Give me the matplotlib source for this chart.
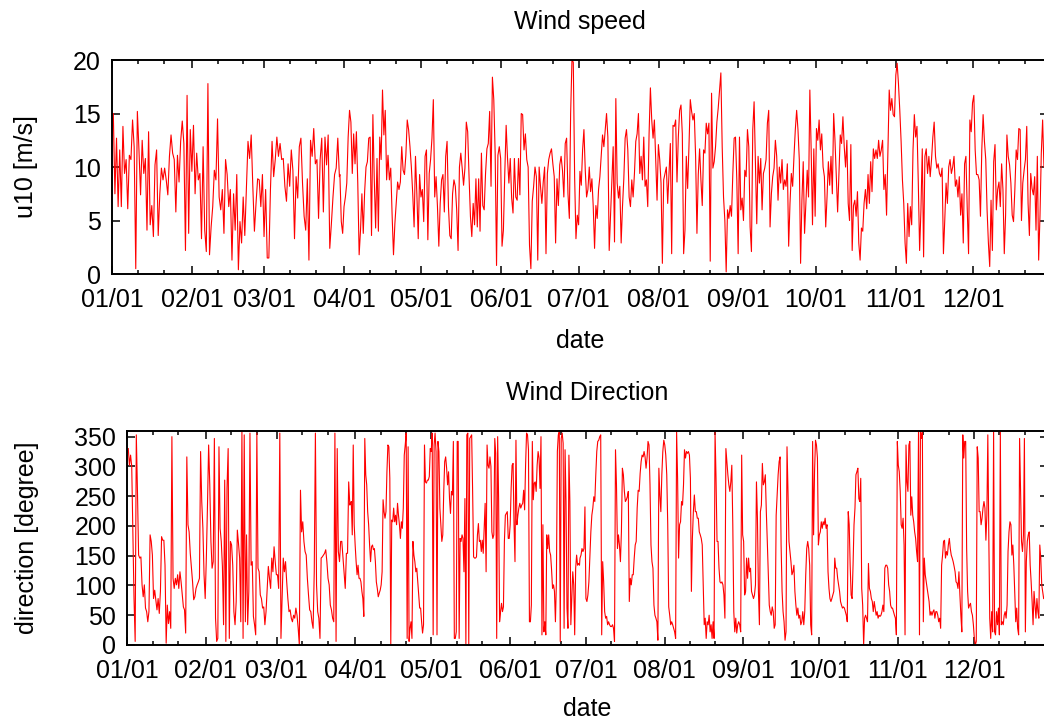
import datetime
import numpy as np
import matplotlib
matplotlib.use("Agg")
import matplotlib.pyplot as plt
import matplotlib.dates as mdates

plt.rcParams['font.family'] = ['Liberation Sans', 'DejaVu Sans']

year_start = datetime.datetime(2013, 1, 1)

# u10 wind speed [m/s] (Jan-Mar, Apr-Jun, Jul-Sep, Oct-Dec)
speed_q1 = [
    15.0, 7.5, 12.7, 6.3, 11.6, 6.3, 13.8, 9.4, 10.7, 6.1,
    11.1, 10.7, 14.4, 11.9, 0.5, 15.2, 11.6, 7.4, 12.5, 9.4,
    10.8, 4.1, 13.3, 4.6, 6.4, 3.5, 10.2, 11.6, 3.6, 7.5,
    9.9, 8.8, 9.9, 8.8, 7.4, 11.0, 13.0, 11.3, 10.7, 5.8,
    11.1, 8.6, 12.4, 14.3, 12.2, 2.2, 16.7, 3.8, 13.5, 9.6,
    13.9, 7.5, 11.3, 8.8, 9.4, 3.3, 11.9, 4.1, 2.1, 17.8,
    1.8, 4.4, 6.3, 9.7, 8.8, 14.5, 7.2, 6.0, 7.9, 3.8,
    10.7, 9.3, 6.3, 7.9, 1.3, 7.5, 4.1, 9.3, 0.4, 4.9,
    2.9, 7.2, 3.6, 7.9, 12.4, 10.8, 13.0, 8.2, 4.0, 6.6,
    8.9, 8.8, 6.3, 9.3, 3.5, 7.9, 1.5, 1.5, 7.9, 12.4,
    9.1, 10.7, 12.8, 11.0, 12.2, 10.7, 10.8, 8.2, 6.8, 10.3,
    8.2, 11.6, 9.7, 3.3, 9.1, 7.1, 11.9, 12.7, 8.5, 5.4,
    4.1, 8.9, 1.3, 12.5, 11.0, 13.6, 10.3, 10.7, 5.2, 10.7,
    12.7, 5.8, 12.8, 10.2, 13.0, 2.4, 4.7, 7.2, 9.3, 9.9,
    12.7, 9.1,
]
speed_q2 = [
    9.3, 4.9, 3.8, 6.3, 7.2, 8.5, 12.8, 15.3, 14.2, 9.4,
    13.1, 10.3, 13.3, 8.5, 1.8, 4.1, 7.5, 3.8, 7.7, 10.0,
    10.5, 12.7, 12.8, 3.6, 14.9, 8.9, 4.3, 10.8, 4.0, 12.8,
    10.7, 17.2, 13.0, 15.3, 8.8, 11.1, 8.8, 9.9, 5.5, 1.8,
    4.7, 6.6, 8.6, 7.9, 8.6, 11.9, 9.7, 9.3, 11.1, 14.4,
    13.5, 11.9, 10.0, 7.5, 4.4, 11.0, 7.5, 3.3, 9.3, 7.2,
    7.9, 4.9, 11.0, 11.6, 3.2, 9.4, 10.7, 12.7, 16.3, 7.2,
    9.1, 6.3, 2.6, 6.6, 8.8, 9.3, 5.8, 11.0, 12.4, 6.3,
    3.6, 3.3, 7.5, 8.8, 8.2, 6.0, 2.2, 10.0, 11.3, 9.9,
    8.3, 9.9, 14.2, 13.3, 9.1, 5.4, 3.5, 6.6, 4.6, 8.9,
    4.4, 8.9, 4.0, 11.3, 6.4, 6.0, 9.4, 11.7, 12.2, 15.2,
    8.2, 18.4, 16.3, 11.3, 0.8, 11.1, 11.9, 10.8, 2.6, 4.1,
    9.4, 13.9, 10.8, 8.5, 10.8, 7.1, 5.7, 10.8, 7.2, 6.9,
    10.8, 7.4, 15.0, 14.9, 11.6, 13.1, 10.7, 10.0, 2.7, 0.5,
    6.8, 8.2, 10.0, 9.1, 1.3, 10.0, 8.2, 6.6, 8.6, 10.0,
    1.9, 9.4, 10.7, 11.3, 11.7, 10.3, 9.1, 2.9, 8.9, 6.4,
    10.2, 11.0, 9.7, 7.2, 12.2, 12.7, 7.5, 5.2,
]
speed_q3 = [
    15.0, 20.0, 19.8, 9.1, 3.3, 5.5, 4.6, 9.6, 8.3, 11.6,
    13.5, 9.7, 7.2, 7.9, 10.0, 7.7, 8.9, 6.3, 2.4, 6.4,
    5.2, 7.9, 9.1, 11.0, 13.0, 11.9, 13.5, 15.0, 12.8, 2.2,
    5.4, 8.6, 11.9, 3.0, 16.4, 8.5, 7.1, 8.2, 2.9, 6.3,
    8.9, 12.7, 13.5, 11.6, 7.2, 6.3, 8.8, 7.2, 9.4, 12.4,
    13.1, 15.0, 9.4, 11.0, 8.8, 12.8, 8.2, 8.8, 6.3, 13.1,
    17.4, 14.4, 12.7, 14.4, 10.7, 6.9, 12.1, 10.7, 8.5, 1.0,
    8.8, 9.4, 10.0, 6.6, 9.3, 12.2, 1.9, 13.9, 13.8, 14.4,
    8.6, 12.8, 15.3, 15.8, 13.1, 1.9, 4.1, 11.0, 8.0, 11.9,
    16.3, 15.2, 14.4, 15.0, 11.0, 3.8, 9.3, 11.7, 8.8, 6.4,
    11.6, 11.3, 14.1, 13.1, 14.1, 1.2, 16.9, 9.9, 10.5, 11.9,
    14.2, 15.5, 17.2, 18.8, 11.9, 7.2, 5.0, 0.2, 6.0, 5.2,
    6.4, 5.4, 9.4, 12.7, 12.8, 8.8, 1.9, 12.8, 6.0, 7.1,
    5.0, 9.7, 9.1, 13.5, 11.9, 4.4, 2.1, 13.5, 16.1, 10.3,
    4.7, 11.0, 8.5, 10.8, 6.0, 9.4, 9.9, 10.7, 14.1, 15.3,
    4.4, 7.5, 9.1, 9.9, 12.5, 11.0, 6.9, 10.0, 8.5, 10.7,
    7.9, 8.8, 8.2, 10.3, 2.6, 6.6, 9.4, 8.2, 11.0, 13.5,
    15.3, 13.5, 10.7,
]
speed_q4 = [
    1.0, 6.9, 10.5, 3.8, 6.6, 9.7, 7.2, 17.2, 11.6, 4.6,
    11.7, 5.4, 13.6, 12.5, 14.4, 11.6, 13.1, 10.0, 9.1, 4.4,
    7.2, 10.5, 8.3, 11.0, 7.5, 15.0, 12.5, 9.1, 5.8, 9.3,
    13.0, 12.2, 14.7, 11.9, 10.0, 12.5, 6.6, 5.0, 12.1, 2.2,
    6.4, 6.9, 5.4, 7.7, 2.9, 1.3, 4.3, 4.0, 6.6, 7.9,
    6.1, 9.3, 6.6, 10.5, 7.7, 11.7, 10.8, 11.6, 10.8, 12.5,
    11.0, 11.6, 12.5, 7.9, 9.3, 5.5, 11.6, 17.2, 15.3, 16.4,
    14.9, 14.7, 18.6, 19.7, 17.8, 15.3, 12.4, 8.8, 6.6, 2.9,
    1.0, 6.6, 3.5, 6.3, 4.6, 11.6, 14.9, 12.8, 13.8, 8.5,
    2.2, 6.0, 11.7, 1.6, 11.0, 11.7, 9.4, 11.0, 9.1, 10.7,
    12.8, 14.2, 11.0, 9.9, 10.3, 9.4, 9.1, 9.9, 1.9, 5.0,
    8.5, 6.6, 10.0, 10.7, 9.4, 10.0, 11.0, 8.2, 8.8, 7.2,
    9.1, 5.5, 7.5, 2.9, 10.3, 11.0, 6.1, 1.9, 14.4, 13.3,
    16.0, 16.7, 11.6, 9.3, 9.3, 8.8, 5.4, 11.6, 14.9, 12.4,
    10.7, 6.0, 2.9, 0.7, 6.9, 2.2, 10.5, 12.1, 6.0, 7.9,
    8.6, 6.3, 10.3, 7.9, 1.9, 5.5, 13.0, 11.0, 10.2, 8.5,
    5.5, 4.9, 7.9, 11.6, 10.7, 13.6, 13.5, 5.0, 8.5, 9.7,
    10.7, 13.8, 6.6, 3.6, 9.4, 8.0, 7.4, 9.1, 4.1, 11.0,
    1.3, 5.4, 11.3, 14.4, 10.0,
]
# day of year of the first and last reading in each block
speed_spans = [(0.5, 88.2), (88.4, 177.4), (177.9, 266.6), (267.1, 361.5)]

# wind direction [degree], same blocks
dir_q1 = [
    330, 302, 319, 300, 185, 78, 6, 353, 258, 151,
    146, 148, 101, 81, 101, 62, 56, 39, 56, 185,
    174, 151, 78, 92, 76, 59, 78, 53, 90, 182,
    176, 176, 134, 3, 67, 36, 56, 28, 350, 112,
    95, 112, 101, 118, 95, 123, 106, 84, 64, 59,
    20, 316, 202, 190, 154, 129, 106, 76, 81, 95,
    101, 106, 112, 325, 241, 196, 118, 78, 146, 235,
    336, 269, 174, 129, 140, 347, 45, 6, 11, 333,
    196, 174, 132, 34, 277, 6, 263, 330, 11, 174,
    168, 134, 56, 34, 73, 193, 171, 146, 39, 358,
    11, 353, 39, 185, 34, 90, 356, 134, 140, 48,
    34, 17, 356, 129, 123, 84, 78, 62, 64, 34,
    56, 95, 132, 112, 95, 146, 123, 165, 140, 118,
    118, 95, 356, 11, 78, 146, 123, 140, 106, 78,
    56, 59, 45, 39, 50, 45, 62, 50, 28, 0,
    260, 190, 207, 174, 157, 151, 112, 84, 59, 56,
    39, 28, 123, 356, 101, 56, 45, 11, 146, 148,
    151, 154, 160, 140, 112, 101, 67, 59, 45, 39,
    356, 6, 330, 157, 140, 174, 174, 148, 123, 95,
    154, 154, 274, 235,
]
dir_q2 = [
    238, 241, 185, 336, 202, 168, 140, 118, 134, 112,
    112, 106, 90, 78, 48, 347, 286, 269, 224, 202,
    168, 140, 165, 168, 160, 162, 140, 106, 95, 81,
    87, 92, 101, 123, 244, 224, 213, 224, 291, 336,
    333, 280, 0, 210, 207, 230, 207, 218, 202, 238,
    218, 202, 179, 207, 196, 230, 319, 336, 356, 11,
    333, 6, 28, 39, 11, 174, 151, 140, 123, 129,
    106, 84, 62, 62, 39, 20, 34, 336, 274, 272,
    277, 277, 283, 330, 325, 356, 17, 336, 356, 325,
    17, 342, 325, 230, 202, 174, 185, 258, 308, 316,
    297, 269, 291, 246, 221, 258, 252, 342, 11, 11,
    22, 342, 342, 11, 179, 174, 185, 179, 123, 246,
    0, 353, 356, 0, 347, 350, 353, 258, 148, 146,
    146, 148, 185, 204, 174, 176, 157, 176, 154, 196,
    238, 123, 336, 302, 297, 316, 300, 190, 179, 185,
    347, 322, 11, 350, 244, 39, 56, 70, 56, 64,
    174, 218, 221, 224, 179, 179, 202, 263, 302, 305,
    202, 140, 344, 202, 218, 230, 238, 230, 235, 238,
    260, 227, 302, 356, 353, 328, 39, 39, 67, 342,
    244, 272, 274, 258, 302, 325, 314, 263, 350, 17,
    202, 22, 39, 17, 185, 162, 185, 157, 151, 126,
    95, 101, 90, 39, 106, 325, 353, 358, 6, 347,
    356, 339, 28, 328, 241, 62, 28, 319, 241, 34,
    78, 123, 101, 17, 129, 151, 134, 137, 134,
]
dir_q3 = [
    146, 151, 162, 157, 162, 232, 78, 73, 84, 106,
    146, 190, 218, 230, 249, 241, 286, 325, 342, 344,
    350, 353, 17, 140, 106, 56, 45, 48, 34, 39,
    34, 31, 31, 34, 28, 6, 328, 269, 162, 185,
    168, 140, 190, 297, 286, 258, 241, 244, 249, 258,
    73, 112, 101, 118, 118, 146, 168, 174, 230, 260,
    258, 288, 308, 319, 316, 325, 316, 297, 314, 342,
    336, 269, 168, 140, 129, 67, 50, 45, 39, 8,
    297, 252, 224, 286, 325, 344, 336, 319, 286, 202,
    64, 50, 34, 39, 34, 28, 22, 11, 358, 280,
    146, 202, 207, 241, 235, 269, 328, 314, 325, 322,
    325, 319, 280, 90, 179, 224, 252, 224, 224, 213,
    213, 190, 185, 179, 168, 101, 34, 45, 11, 39,
    34, 50, 22, 34, 11, 39, 11, 358, 280, 174,
    174, 129, 106, 104, 106, 101, 84, 45, 330, 308,
    286, 269, 258, 274, 302, 202, 56, 22, 45, 20,
    34, 39, 34, 22, 319, 185, 174, 84, 90, 146,
    112, 146, 123, 129, 90, 84, 78, 84, 101, 274,
    213, 90, 34, 224, 235, 305, 269, 274, 286, 224,
    174, 118, 67, 56, 50, 64, 56, 28, 34, 218,
    252, 286, 308, 316, 168, 90, 56, 39, 8, 22,
    333, 258, 174, 157, 140, 118, 123, 134, 90, 67,
    50, 62, 45, 50, 34, 39, 56, 34, 56, 118,
    162, 174, 162, 134,
]
dir_q4 = [
    34, 17, 342, 185, 291, 344, 336, 314, 168, 185,
    190, 207, 196, 207, 202, 213, 196, 202, 123, 95,
    78, 73, 78, 84, 90, 146, 129, 129, 112, 101,
    90, 73, 67, 62, 64, 62, 56, 50, 39, 224,
    202, 134, 84, 78, 134, 202, 230, 286, 291, 297,
    246, 241, 280, 95, 67, 0, 45, 50, 45, 39,
    137, 95, 90, 78, 73, 56, 73, 62, 50, 56,
    45, 50, 48, 50, 56, 67, 56, 129, 134, 134,
    129, 101, 90, 67, 62, 62, 56, 50, 45, 17,
    342, 302, 291, 258, 202, 196, 213, 168, 17, 336,
    274, 258, 336, 342, 218, 249, 218, 207, 190, 179,
    157, 140, 358, 17, 359, 347, 358, 39, 146, 118,
    106, 95, 84, 73, 50, 56, 50, 56, 59, 45,
    56, 56, 50, 39, 45, 28, 134, 151, 174, 176,
    146, 157, 151, 168, 179, 162, 151, 146, 140, 132,
    123, 106, 104, 95, 123, 84, 50, 22, 353, 314,
    342, 342, 162, 90, 62, 67, 70, 56, 50, 34,
    11, 0, 6, 333, 314, 224, 224, 202, 213, 230,
    241, 230, 176, 218, 353, 185, 45, 11, 56, 22,
    359, 22, 17, 56, 34, 62, 17, 359, 34, 39,
    34, 50, 56, 45, 67, 157, 190, 207, 202, 151,
    168, 134, 84, 39, 62, 28, 17, 347, 258, 174,
    157, 185, 347, 22, 140, 174, 185, 190, 134, 106,
    73, 34, 90, 67, 45, 78, 56, 45, 168, 146,
    101, 90, 78,
]
dir_spans = [(0.4, 87.8), (88.0, 178.4), (178.6, 269.2), (269.6, 361.5)]

month_fmt = "%m/%d"


def block_dates(blocks, spans):
    days = np.concatenate([np.linspace(a, b, len(v)) for v, (a, b) in zip(blocks, spans)])
    return mdates.date2num(year_start) + days


speed = np.concatenate([speed_q1, speed_q2, speed_q3, speed_q4])
direction = np.concatenate([dir_q1, dir_q2, dir_q3, dir_q4])
t_speed = block_dates([speed_q1, speed_q2, speed_q3, speed_q4], speed_spans)
t_dir = block_dates([dir_q1, dir_q2, dir_q3, dir_q4], dir_spans)

fig = plt.figure(figsize=(10.44, 7.2), dpi=100)
fig.set_facecolor("white")

# axes boxes in figure fractions (the right edge runs just past the picture, as in the original)
ax1 = fig.add_axes([0.1073, 0.6194, 0.8966, 0.2972])
ax2 = fig.add_axes([0.1219, 0.1042, 0.8819, 0.2976])

x0 = mdates.date2num(year_start)
panels = [
    (ax1, t_speed, speed, "Wind speed", "u10 [m/s]", (0, 20), np.arange(0, 21, 5), 363.1, 22, 12, 25),
    (ax2, t_dir, direction, "Wind Direction", "direction [degree]", (0, 360), np.arange(0, 351, 50), 363.2, 22, 10, 25),
]

fs = 18
for ax, t, v, title, ylabel, ylim, yticks, xend, tpad, xpad, ypad in panels:
    ax.plot(t, v, color="#ff0000", linewidth=0.8)
    ax.set_xlim(x0, x0 + xend)
    ax.set_ylim(*ylim)
    ax.set_yticks(yticks)
    ax.xaxis.set_major_locator(mdates.MonthLocator())
    ax.xaxis.set_major_formatter(mdates.DateFormatter(month_fmt))
    ax.xaxis.set_minor_locator(mdates.DayLocator(bymonthday=[11, 21]))
    ax.tick_params(which="both", direction="in", top=True, right=True, width=1.1)
    ax.tick_params(axis="x", which="major", pad=10)
    ax.tick_params(axis="y", which="major", pad=8)
    ax.tick_params(which="major", length=5.5, labelsize=fs)
    ax.tick_params(which="minor", length=2.8)
    for s in ax.spines.values():
        s.set_linewidth(1.4)
    ax.set_title(title, fontsize=fs, pad=tpad)
    ax.set_xlabel("date", fontsize=fs, labelpad=xpad)
    ax.set_ylabel(ylabel, fontsize=fs, labelpad=ypad)

fig.savefig("out.png", dpi=100, facecolor="white")
